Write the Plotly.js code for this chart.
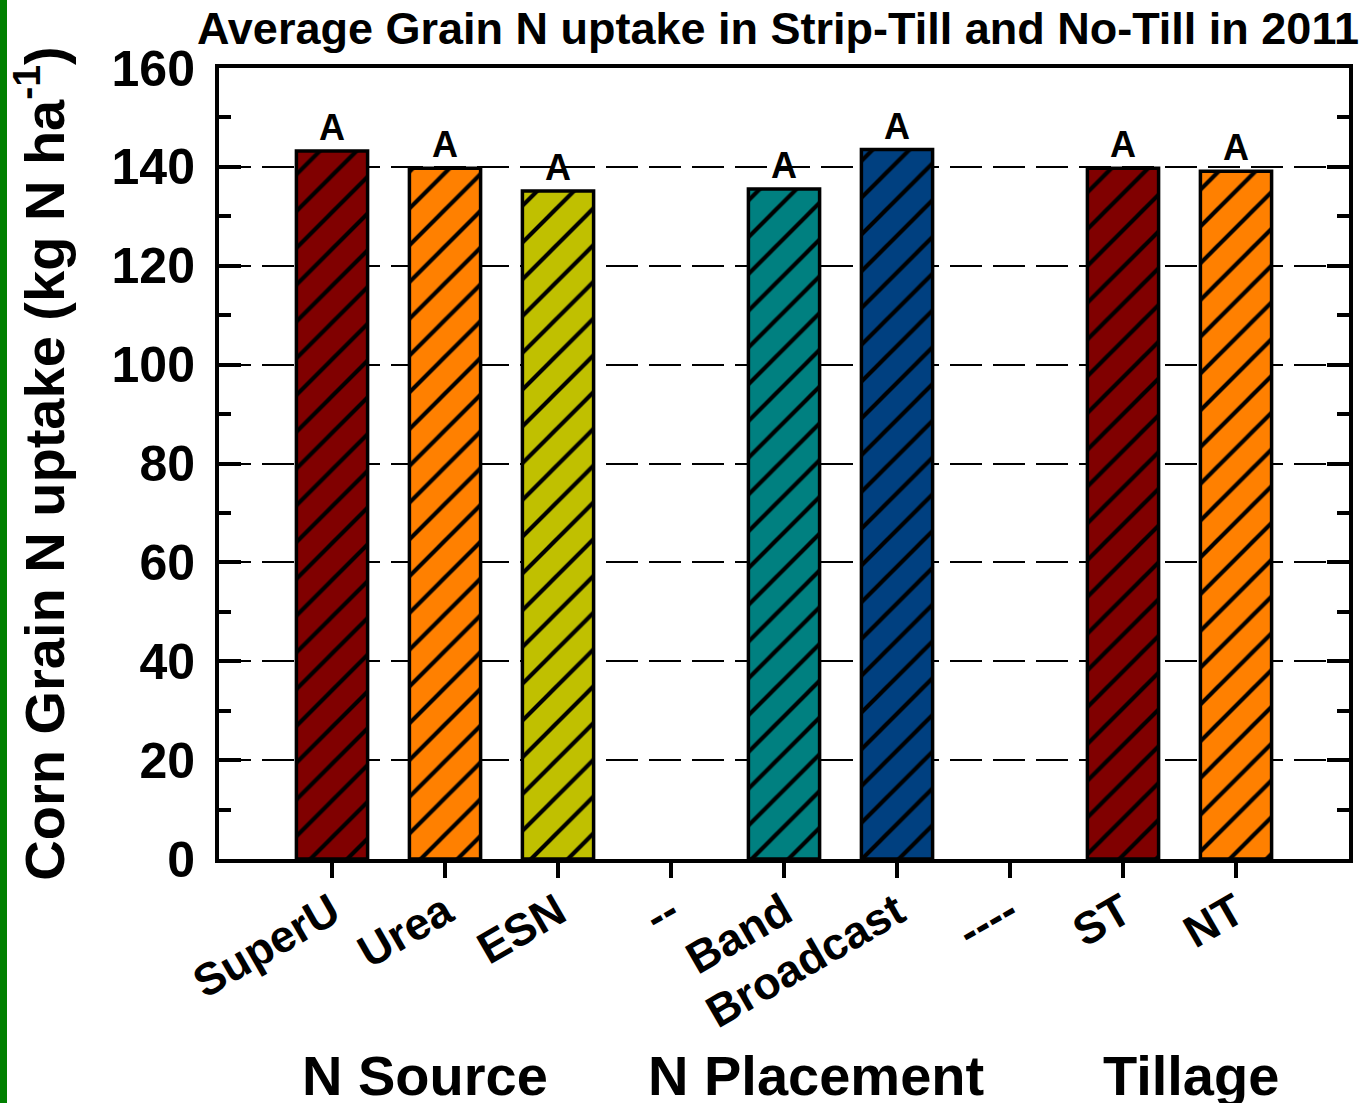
<!DOCTYPE html>
<html>
<head>
<meta charset="utf-8">
<script src="https://cdn.plot.ly/plotly-3.0.1.min.js"></script>
<style>
  html, body { margin: 0; padding: 0; background: #fff; }
  #chart { width: 1367px; height: 1103px; }
  #greenbar { position: absolute; left: 0; top: 0; width: 7px; height: 1103px; background: #008000; z-index: 10; }
</style>
</head>
<body>
<div id="greenbar"></div>
<div id="chart"></div>
<script>
const categories = ["SuperU", "Urea", "ESN", "--", "Band", "Broadcast", "----", "ST", "NT"];
const uptake = [143.2, 139.7, 135.1, null, 135.5, 143.5, null, 139.7, 139.1];
const letters = ["A", "A", "A", "", "A", "A", "", "A", "A"];
const barColors = ["#800000", "#FF8000", "#C0C000", "#ffffff", "#008080", "#004080", "#ffffff", "#800000", "#FF8000"];
const groupLabels = ["N Source", "N Placement", "Tillage"];
const groupCenters = [0.82, 4.28, 7.6];
const yTicks = [0, 20, 40, 60, 80, 100, 120, 140, 160];

const FONT = "Liberation Sans, Arial, Helvetica, sans-serif";

// solid colour fill
const fillTrace = {
  type: "bar",
  x: categories,
  y: uptake,
  marker: { color: barColors, line: { color: "#000", width: 0 } },
  hoverinfo: "skip"
};

// black hatching + outline + letters
const hatchTrace = {
  type: "bar",
  x: categories,
  y: uptake,
  text: letters,
  textposition: "outside",
  cliponaxis: false,
  textfont: { family: FONT, size: 36, color: "#000", weight: "bold" },
  marker: {
    color: "#000000",
    line: { color: "#000", width: 3.5 },
    pattern: {
      shape: "/",
      fillmode: "overlay",
      fgcolor: "#000000",
      bgcolor: "rgba(0,0,0,0)",
      fgopacity: 1,
      size: 26,
      solidity: 0.16
    }
  },
  hoverinfo: "x+y"
};

const layout = {
  width: 1367,
  height: 1103,
  paper_bgcolor: "#fff",
  plot_bgcolor: "#fff",
  margin: { l: 219, r: 18, t: 68, b: 244, pad: 0 },
  showlegend: false,
  barmode: "overlay",
  bargap: 0.37,
  font: { family: FONT, color: "#000" },
  title: {
    text: "Average Grain N uptake in Strip-Till and No-Till in 2011",
    font: { family: FONT, size: 45, color: "#000", weight: "bold" },
    x: 197 / 1367, xanchor: "left", xref: "container",
    y: 1 - 28 / 1103, yanchor: "middle", yref: "container"
  },
  xaxis: {
    type: "category",
    categoryorder: "array",
    categoryarray: categories,
    range: [-1, 9],
    showline: true, linecolor: "#000", linewidth: 4, mirror: true,
    ticks: "outside", ticklen: 15, tickwidth: 4, tickcolor: "#000",
    tickangle: -30,
    ticklabelstandoff: -10,
    tickfont: { family: FONT, size: 45, color: "#000", weight: "bold" },
    showgrid: false, zeroline: false
  },
  yaxis: {
    range: [0, 160],
    tickvals: yTicks,
    ticktext: yTicks.map(String),
    showline: true, linecolor: "#000", linewidth: 4, mirror: "allticks",
    ticks: "inside", ticklen: 22, tickwidth: 4, tickcolor: "#000",
    minor: { dtick: 10, ticks: "inside", ticklen: 12, tickwidth: 4, tickcolor: "#000", showgrid: false },
    tickfont: { family: FONT, size: 50, color: "#000", weight: "bold" },
    ticklabelstandoff: 10,
    showgrid: true, gridcolor: "#000", gridwidth: 2, griddash: "32px,11px",
    zeroline: false,
    title: {
      text: "Corn Grain N uptake (kg N ha<sup>-1</sup>)",
      font: { family: FONT, size: 56, color: "#000", weight: "bold" },
      standoff: 30
    }
  },
  annotations: groupLabels.map((t, i) => ({
    text: t,
    x: groupCenters[i], xref: "x", xanchor: "center",
    y: (859 - 1075) / 791, yref: "paper", yanchor: "middle",
    showarrow: false,
    font: { family: FONT, size: 56, color: "#000", weight: "bold" }
  }))
};

Plotly.newPlot("chart", [fillTrace, hatchTrace], layout, { displayModeBar: false, staticPlot: true });
</script>
</body>
</html>
